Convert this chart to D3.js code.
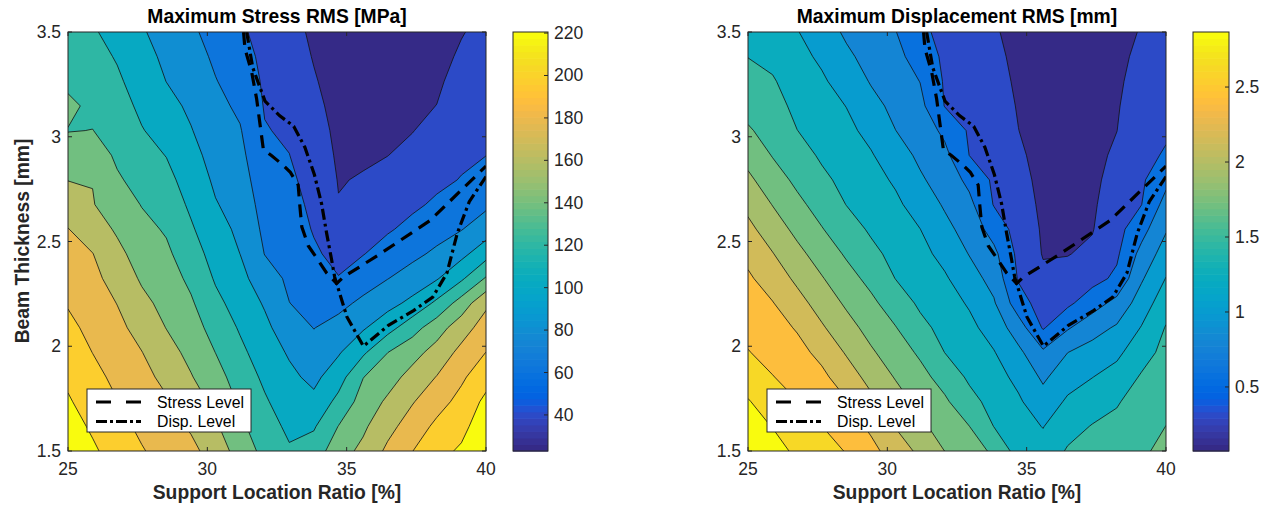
<!DOCTYPE html>
<html><head><meta charset="utf-8">
<script src="https://cdn.jsdelivr.net/npm/d3@7"></script>
<style>
body{margin:0;background:#fff;}
text{font-family:"Liberation Sans",Arial,Helvetica,sans-serif;}
</style></head><body>
<svg id="chart" width="1270" height="509"></svg>
<script>
// ---------------- data ----------------
const ratios = [25, 25.88, 26.76, 27.65, 28.53, 29.41, 30.29, 31.18, 32.06, 32.94, 33.82, 34.71, 35.59, 36.47, 37.35, 38.24, 39.12, 40];
const thicknesses = [3.5, 3.382, 3.265, 3.147, 3.029, 2.912, 2.794, 2.676, 2.559, 2.441, 2.324, 2.206, 2.088, 1.971, 1.853, 1.735, 1.618, 1.5];

// stress RMS [MPa], one array per support ratio, thickness from 3.5 down to 1.5
const stressByRatio = [
 [118.4,122,126.5,135.5,130.3,141.8,148.6,158.4,167.5,172.9,178.3,183.7,189.1,194.4,199.8,204.8,210.2,215.6],
 [114.8,119.1,123.3,126.5,131.3,140.5,148.5,149.9,157.6,167.4,171.7,176,180.5,184.8,190,195.3,200.5,205.7],
 [107.2,111.6,115.7,119.8,124,128.1,133.2,140,146.7,153.5,160,166.6,171.5,176.2,180.9,185.5,190.6,195.4],
 [96.8,101.1,105.3,109.6,113.9,119.3,124.9,130.3,135.9,141.4,146.8,153.5,160.5,167.4,172,176.7,181.4,186.3],
 [87.8,91.4,94.8,100.6,106.5,112.5,118,123.6,129.2,134.2,139.1,143.8,148.6,155.5,162.7,168.8,173.5,178.2],
 [79.9,83.8,87.8,91.8,95.9,100.6,105.3,109.9,115.2,121.1,127.2,133.2,138.7,144.3,150.1,157.5,164.7,171.9],
 [70.9,74.3,77.7,81.3,84.9,88.5,92.1,96.1,101.1,106.2,111.2,117.3,124.2,130.8,137.8,144.7,151.5,158.5],
 [61.5,65.7,69.8,74.1,78.1,81.3,84.7,88.2,91.6,94.9,100.4,105.8,111.2,116.8,122.5,128.3,134.8,141.8],
 [53.6,55,56.5,57.9,59.9,63.1,66.6,70,73.2,76.6,84.6,93.2,99.1,104.4,109.8,115,120.2,125.6],
 [46.2,48.7,51.4,54,56.7,59.2,62.2,65.1,68.2,71.2,74.1,77.2,85.1,93,99,104.2,109.6,114.8],
 [38.3,40.1,42.3,44.8,47.3,50,52.5,55.2,57.7,61.5,66.6,71.6,76.6,83.5,90.5,99.5,111.2,121.1],
 [32,33.4,34.7,36.1,37.6,38.8,40.3,41.6,48.7,54,59.7,72.1,83.1,93.2,105.3,118,131.4,141.8],
 [29.3,31.3,33.3,35.4,37.4,39.4,41.9,47.5,52.9,58.3,68.9,80.6,93,109.9,130.5,138.4,145.9,153.1],
 [28.4,30.9,33.3,35.8,38.3,40.8,46,51.6,57.2,66.2,76.6,89.1,106.2,130.8,141.6,151.9,161.4,170.6],
 [30.2,32.7,35.2,37.8,40.5,45.1,50.5,56.1,63.5,72.9,84.4,99.3,123.8,142.5,155.1,165.7,175.3,184.6],
 [33.8,36.1,38.7,41.2,46,50.7,55.6,61.5,70.3,80.2,93.6,116.6,141.1,155.8,167.7,178.3,188.8,197.6],
 [40.1,43.2,46.4,49.6,52.9,56.1,59.7,68.2,76.3,90.1,110.1,138.7,158.9,172,182.1,190.4,198,205.5],
 [45.5,48.2,50.7,53.4,56.1,58.8,66,73.9,86.2,106,132.8,163.4,175.3,185.2,196.2,207.3,213.8,219.2]
];

// displacement RMS [mm], same layout
const dispByRatio = [
 [1.302,1.386,1.467,1.544,1.632,1.755,1.876,1.995,2.105,2.215,2.301,2.365,2.431,2.499,2.611,2.725,2.798,2.864],
 [1.258,1.335,1.41,1.471,1.535,1.599,1.707,1.823,1.94,2.059,2.171,2.279,2.351,2.422,2.497,2.6,2.703,2.798],
 [1.181,1.234,1.284,1.337,1.392,1.476,1.564,1.661,1.773,1.889,2.006,2.127,2.252,2.336,2.415,2.494,2.578,2.666],
 [1.045,1.133,1.201,1.254,1.309,1.361,1.434,1.526,1.621,1.733,1.845,1.96,2.076,2.213,2.318,2.406,2.492,2.578],
 [0.919,0.987,1.075,1.166,1.223,1.278,1.333,1.386,1.485,1.584,1.689,1.797,1.911,2.03,2.158,2.285,2.38,2.479],
 [0.829,0.882,0.935,1.016,1.108,1.188,1.247,1.304,1.361,1.445,1.551,1.656,1.755,1.859,1.977,2.101,2.228,2.336],
 [0.737,0.789,0.844,0.897,0.952,1.047,1.141,1.212,1.271,1.328,1.386,1.504,1.619,1.716,1.815,1.925,2.041,2.16],
 [0.554,0.64,0.726,0.787,0.849,0.908,0.979,1.075,1.172,1.232,1.293,1.355,1.447,1.577,1.678,1.771,1.874,2.006],
 [0.455,0.47,0.488,0.503,0.684,0.787,0.855,0.926,1.009,1.108,1.196,1.26,1.326,1.388,1.526,1.645,1.738,1.828],
 [0.385,0.409,0.433,0.459,0.484,0.508,0.677,0.785,0.864,0.941,1.042,1.148,1.223,1.289,1.355,1.46,1.612,1.742],
 [0.312,0.338,0.365,0.393,0.42,0.446,0.473,0.499,0.64,0.785,0.875,0.972,1.08,1.181,1.249,1.317,1.386,1.562],
 [0.224,0.242,0.257,0.275,0.292,0.325,0.358,0.391,0.424,0.457,0.49,0.607,0.836,0.998,1.117,1.199,1.249,1.302],
 [0.136,0.151,0.169,0.184,0.2,0.217,0.233,0.248,0.266,0.278,0.33,0.409,0.49,0.765,0.913,1.038,1.163,1.247],
 [0.136,0.151,0.169,0.184,0.202,0.217,0.233,0.25,0.266,0.283,0.354,0.466,0.708,0.948,1.08,1.203,1.309,1.412],
 [0.147,0.165,0.18,0.198,0.213,0.231,0.246,0.261,0.279,0.327,0.44,0.631,0.869,1.029,1.166,1.284,1.401,1.478],
 [0.235,0.248,0.261,0.275,0.288,0.325,0.363,0.402,0.44,0.477,0.55,0.798,0.976,1.124,1.251,1.375,1.434,1.511],
 [0.301,0.33,0.36,0.389,0.418,0.448,0.477,0.506,0.649,0.796,0.924,1.053,1.181,1.3,1.412,1.467,1.522,1.577],
 [0.345,0.38,0.413,0.448,0.481,0.532,0.675,0.807,0.93,1.053,1.177,1.3,1.403,1.456,1.509,1.559,1.612,1.665]
];

const stressLevels = [41, 59, 77, 95, 113, 131, 149, 167, 185, 203];
const dispLevels = [0.29, 0.51, 0.73, 0.95, 1.17, 1.39, 1.61, 1.83, 2.05, 2.27, 2.49, 2.71];
const stressRange = [23, 220.5];
const dispRange = [0.073, 2.867];
const stressTicks = [40, 60, 80, 100, 120, 140, 160, 180, 200, 220];
const dispTicks = [0.5, 1, 1.5, 2, 2.5];
const ratioTicks = [25, 30, 35, 40];
const thicknessTicks = [1.5, 2, 2.5, 3, 3.5];

// design limit curves [ratio, thickness]
const stressLevelCurve = [[31.3,3.5],[31.35,3.42],[31.59,3.31],[31.77,3.18],[32.01,2.94],[32.3,2.91],[32.67,2.87],[32.98,2.83],[33.26,2.77],[33.32,2.67],[33.39,2.57],[33.62,2.48],[33.98,2.41],[34.28,2.35],[34.64,2.3],[34.88,2.33],[36.19,2.44],[37.99,2.6],[40,2.86]];
const dispLevelCurve = [[31.41,3.5],[31.63,3.33],[32.07,3.17],[32.6,3.1],[33.1,3.05],[33.5,2.95],[33.84,2.82],[34.1,2.68],[34.28,2.54],[34.45,2.42],[34.57,2.33],[35.01,2.14],[35.6,2.0],[36.5,2.1],[37.4,2.17],[38.09,2.235],[38.6,2.35],[38.97,2.54],[39.4,2.69],[40,2.81]];

// parula colormap (64)
const parula = ["#352a87","#363093","#3637a0","#353dad","#3243ba","#2c4ac7","#2053d4","#0f5cdd","#0363e1","#0268e1","#046de0","#0871de","#0d75dc","#1079da","#127dd8","#1481d6","#1485d4","#1389d3","#108ed2","#0c93d2","#0998d1","#079ccf","#06a0cd","#06a4ca","#06a7c6","#07a9c2","#0aacbe","#0faeb9","#15b1b4","#1db3af","#25b5a9","#2eb7a4","#38b99e","#42bb98","#4dbc92","#59bd8c","#65be86","#71bf80","#7cbf7b","#87bf77","#92bf73","#9cbf6f","#a5be6b","#aebe67","#b7bd64","#c0bc60","#c8bc5d","#d1bb59","#d9ba56","#e1b952","#e9b94e","#f1b94a","#f8bb44","#fdbe3d","#ffc337","#fec832","#fcce2e","#fad32a","#f7d826","#f5de21","#f5e41d","#f5eb18","#f6f313","#f9fb0e"];

// ---------------- drawing ----------------
const svg = d3.select("#chart");
const defs = svg.append("defs");
const AX = "#262626";
const FONT_TICK = 17.5, FONT_LABEL = 19.3, FONT_LEG = 15.8;

function bandColorsFor(levels, range) {
  const cs = [parula[0]];
  levels.forEach(L => {
    const f = (L - range[0]) / (range[1] - range[0]);
    cs.push(parula[Math.max(0, Math.min(63, Math.round(f * 63)))]);
  });
  return cs;
}

function panel(cfg) {
  const x = d3.scaleLinear().domain([25, 40]).range([cfg.left, cfg.left + cfg.width]);
  const y = d3.scaleLinear().domain([1.5, 3.5]).range([cfg.top + cfg.height, cfg.top]);
  const n = ratios.length, m = thicknesses.length;
  const grid = [];
  for (let r = 0; r < m; r++) for (let c = 0; c < n; c++) grid.push(cfg.columns[c][r]);
  const ci = d3.scaleLinear().domain([0, n - 1]).range([ratios[0], ratios[n - 1]]);
  const ri = d3.scaleLinear().domain([0, m - 1]).range([thicknesses[0], thicknesses[m - 1]]);
  const path = d3.geoPath(d3.geoTransform({
    point(px, py) { this.stream.point(x(ci(px - 0.5)), y(ri(py - 0.5))); }
  }));

  defs.append("clipPath").attr("id", cfg.id).append("rect")
    .attr("x", cfg.left).attr("y", cfg.top).attr("width", cfg.width).attr("height", cfg.height);
  const g = svg.append("g").attr("clip-path", `url(#${cfg.id})`);
  g.append("rect").attr("x", cfg.left).attr("y", cfg.top).attr("width", cfg.width).attr("height", cfg.height)
    .attr("fill", cfg.bands[0]);
  const contours = d3.contours().size([n, m]).thresholds(cfg.levels)(grid);
  g.selectAll(null).data(contours).join("path").attr("d", path).attr("fill", (d, i) => cfg.bands[i + 1]);
  g.selectAll(null).data(contours).join("path").attr("d", path)
    .attr("fill", "none").attr("stroke", "#111").attr("stroke-width", 0.8);

  const line = d3.line().x(d => x(d[0])).y(d => y(d[1]));
  g.append("path").datum(stressLevelCurve).attr("d", line).attr("fill", "none")
    .attr("stroke", "#000").attr("stroke-width", 3.2).attr("stroke-dasharray", "13,8");
  g.append("path").datum(dispLevelCurve).attr("d", line).attr("fill", "none")
    .attr("stroke", "#000").attr("stroke-width", 3.2).attr("stroke-dasharray", "11,4,3,4");

  // axes box and ticks
  svg.append("rect").attr("x", cfg.left).attr("y", cfg.top).attr("width", cfg.width).attr("height", cfg.height)
    .attr("fill", "none").attr("stroke", AX).attr("stroke-width", 1);
  const tl = 4;
  ratioTicks.forEach(t => {
    svg.append("line").attr("x1", x(t)).attr("x2", x(t)).attr("y1", cfg.top + cfg.height).attr("y2", cfg.top + cfg.height - tl).attr("stroke", AX);
    svg.append("line").attr("x1", x(t)).attr("x2", x(t)).attr("y1", cfg.top).attr("y2", cfg.top + tl).attr("stroke", AX);
    svg.append("text").attr("x", x(t)).attr("y", cfg.top + cfg.height + 24).attr("text-anchor", "middle")
      .attr("font-size", FONT_TICK).attr("fill", AX).text(t);
  });
  thicknessTicks.forEach(t => {
    svg.append("line").attr("x1", cfg.left).attr("x2", cfg.left + tl).attr("y1", y(t)).attr("y2", y(t)).attr("stroke", AX);
    svg.append("line").attr("x1", cfg.left + cfg.width).attr("x2", cfg.left + cfg.width - tl).attr("y1", y(t)).attr("y2", y(t)).attr("stroke", AX);
    svg.append("text").attr("x", cfg.left - 7).attr("y", y(t) + 6).attr("text-anchor", "end")
      .attr("font-size", FONT_TICK).attr("fill", AX).text(t);
  });

  // title & x label
  svg.append("text").attr("x", cfg.left + cfg.width / 2).attr("y", 23).attr("text-anchor", "middle")
    .attr("font-size", FONT_LABEL).attr("font-weight", "bold").attr("fill", "#000").text(cfg.title);
  svg.append("text").attr("x", cfg.left + cfg.width / 2).attr("y", 499).attr("text-anchor", "middle")
    .attr("font-size", FONT_LABEL).attr("font-weight", "bold").attr("fill", AX).text("Support Location Ratio [%]");

  // colorbar
  const cb = d3.scaleLinear().domain(cfg.range).range([cfg.top + cfg.height, cfg.top]);
  const h = cfg.height / parula.length;
  svg.append("g").selectAll("rect").data(parula).join("rect")
    .attr("x", cfg.cbLeft).attr("width", cfg.cbWidth)
    .attr("y", (d, i) => cfg.top + cfg.height - (i + 1) * h).attr("height", h + 0.6)
    .attr("fill", d => d);
  svg.append("rect").attr("x", cfg.cbLeft).attr("y", cfg.top).attr("width", cfg.cbWidth).attr("height", cfg.height)
    .attr("fill", "none").attr("stroke", AX).attr("stroke-width", 1);
  cfg.ticks.forEach(t => {
    const ty = cb(t);
    svg.append("line").attr("x1", cfg.cbLeft + cfg.cbWidth).attr("x2", cfg.cbLeft + cfg.cbWidth - 4)
      .attr("y1", ty).attr("y2", ty).attr("stroke", AX);
    svg.append("text").attr("x", cfg.cbLeft + cfg.cbWidth + 6).attr("y", ty + 6)
      .attr("font-size", FONT_TICK).attr("fill", AX).text(t);
  });

  // legend
  const lx = cfg.left + 19, ly = 389;
  svg.append("rect").attr("x", lx).attr("y", ly).attr("width", 164).attr("height", 43)
    .attr("fill", "#fff").attr("stroke", AX).attr("stroke-width", 1);
  const items = [["Stress Level", "15,15"], ["Disp. Level", "11,3,3,3"]];
  items.forEach((it, i) => {
    const yy = ly + 13 + i * 19.5;
    svg.append("line").attr("x1", lx + 9).attr("x2", lx + 54).attr("y1", yy).attr("y2", yy)
      .attr("stroke", "#000").attr("stroke-width", 3.2).attr("stroke-dasharray", it[1]);
    svg.append("text").attr("x", lx + 70).attr("y", yy + 5.5).attr("font-size", FONT_LEG)
      .attr("fill", "#000").text(it[0]);
  });
}

const stressBands = bandColorsFor([40, 60, 80, 100, 120, 140, 160, 180, 200], stressRange).concat([parula[63]]);
const dispBands = d3.range(13).map(k => parula[Math.round(k / 12 * 63)]);

panel({id: "clipL", left: 68, top: 32, width: 418, height: 419, columns: stressByRatio,
  levels: stressLevels, bands: stressBands, range: stressRange, ticks: stressTicks,
  cbLeft: 513, cbWidth: 35, title: "Maximum Stress RMS [MPa]"});
panel({id: "clipR", left: 748, top: 32, width: 418, height: 419, columns: dispByRatio,
  levels: dispLevels, bands: dispBands, range: dispRange, ticks: dispTicks,
  cbLeft: 1193, cbWidth: 36, title: "Maximum Displacement RMS [mm]"});

svg.append("text").attr("transform", "translate(29,241) rotate(-90)").attr("text-anchor", "middle")
  .attr("font-size", FONT_LABEL).attr("font-weight", "bold").attr("fill", AX).text("Beam Thickness [mm]");
</script>
</body></html>
